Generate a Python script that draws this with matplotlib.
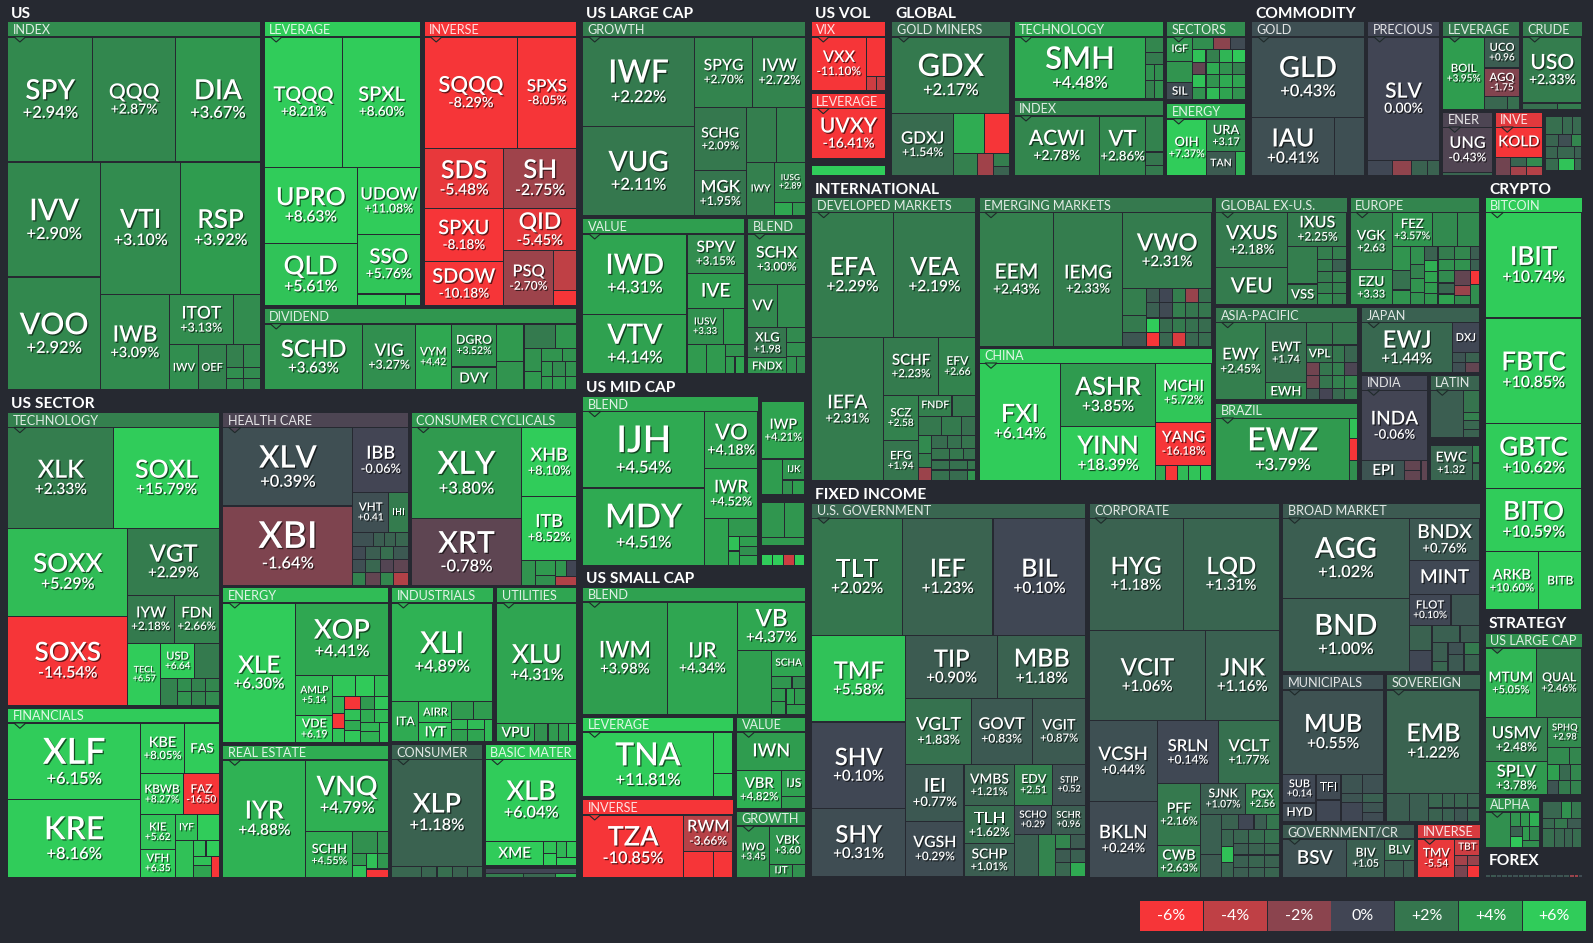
import matplotlib
matplotlib.use('Agg')
import matplotlib.pyplot as plt
import matplotlib.patheffects as pe
from matplotlib.patches import Rectangle, Polygon
import numpy as np

plt.rcParams['font.family'] = ['Lato', 'DejaVu Sans']

# ---- data: tickers, daily change in %, tile area ----
# unlabeled small funds are '' and names lists may stop early
index_names = ['SPY', 'QQQ', 'DIA', 'IVV', 'VOO', 'VTI', 'RSP', 'IWB', 'ITOT', '', 'IWV', 'OEF']
index_chg = [2.94, 2.87, 3.67, 2.90, 2.92, 3.10, 3.92, 3.09, 3.13, 3.1, 3.2, 2.6, 2.5, 3.0, 3.2, 3.0, 3.0, 3.0]
index_size = [9300, 9050, 9300, 9315, 9150, 9370, 9240, 5760, 2800, 1180, 1150, 1100, 350, 330, 175, 165, 175, 165]

lev_names = ['TQQQ', 'SPXL', 'UPRO', 'QLD', 'UDOW', 'SSO']
lev_chg = [8.21, 8.60, 8.63, 5.61, 11.08, 5.76, 6.5, 6.0]
lev_size = [8970, 8840, 6232, 5084, 3696, 3304, 504, 156]

inv_names = ['SQQQ', 'SPXS', 'SDS', 'SH', 'SPXU', 'SDOW', 'QID', 'PSQ']
inv_chg = [-8.29, -8.05, -5.48, -2.75, -8.18, -10.18, -5.45, -2.70, -4.0, -7.0]
inv_size = [9020, 5720, 4200, 3840, 3657, 3036, 2665, 2420, 800, 300]

div_names = ['SCHD', 'VIG', 'VYM', 'DGRO', 'DVY']
div_chg = [3.63, 3.27, 4.42, 3.52, 3.4, 3.8, 3.5, 2.2, 3.6, 3.4, 3.7, 3.5, 3.4, 3.6, 3.8, 3.0, 3.8, 3.4, 3.7]
div_size = [5610, 2970, 2046, 1677, 897, 888, 672, 667, 437, 345, 270, 247, 156, 150, 130, 165, 143, 150, 130]

tech_names = ['XLK', 'SOXL', 'SOXX', 'SOXS', 'VGT', 'IYW', 'FDN', 'TECL', 'USD']
tech_chg = [2.33, 15.79, 5.29, -14.54, 2.29, 2.18, 2.66, 6.57, 6.64, 2.2, 2.6, 3.2, 2.6, 2.8, 3.4, 2.7, 3.0]
tech_size = [9207, 9207, 9152, 9256, 5330, 1927, 1880, 1792, 1050, 770, 392, 156, 156, 156, 168, 168, 168]

fin_names = ['XLF', 'KRE', 'KBE', 'FAS', 'KBWB', 'FAZ', 'KIE', 'VFH', 'IYF']
fin_chg = [6.15, 8.16, 8.05, 7.5, 8.27, -16.50, 5.62, 6.35, 5.5, 6.2, 5.5, 5.6, 6.0, 5.5, 4.2, -7.0]
fin_size = [8740, 8855, 1911, 1519, 1520, 1280, 1020, 840, 500, 475, 592, 165, 180, 144, 176, 147]

health_names = ['XLV', 'XBI', 'IBB', 'VHT', 'IHI']
health_chg = [0.39, -1.64, -0.06, 0.41, 2.3, 0.5, 1.0, 1.2, 1.4, 0.2, 1.0, 1.7, 0.8, 0.4, 1.4, -0.5, -0.8, 2.6, -0.9, 2.8, -3.5]
health_size = [8814, 8927, 3111, 1216, 684, 252, 126, 140, 154, 154, 168, 154, 182, 143, 156, 143, 169, 143, 156, 143, 169]

cyc_names = ['XLY', 'XRT', 'XHB', 'ITB']
cyc_chg = [3.80, -0.78, 8.10, 8.52, 3.5, 3.8, 3.3, 3.6, 0.0, -3.5]
cyc_size = [8730, 6402, 3283, 3087, 297, 272, 170, 153, 144, 152]

energy_names = ['XLE', 'XOP', 'AMLP', 'VDE']
energy_chg = [6.30, 4.41, 5.14, 6.19, 5.8, 5.9, 5.3, 5.0, -8.0, 5.5, -8.0, 5.5, 4.5, 5.8, 3.8, 5.8, 4.6, 5.2, 5.0, 4.8, 5.5]
energy_size = [8618, 5712, 1271, 868, 399, 342, 252, 170, 150, 140, 182, 140, 140, 168, 156, 156, 144, 144, 153, 170, 160]

indus_names = ['XLI', 'ITA', 'AIRR', 'IYT']
indus_chg = [4.89, 4.5, 5.2, 5.4, 3.8, 3.9, 5.0, 5.3, 4.0, 4.3, 5.2]
indus_size = [8640, 966, 609, 551, 342, 306, 140, 150, 168, 180, 161]

util_names = ['XLU', 'VPU']
util_chg = [4.31, 4.3, 3.4, 3.8, 4.0, 5.5]
util_size = [8378, 608, 209, 171, 152, 133]

estate_names = ['IYR', 'VNQ', 'SCHH']
estate_chg = [4.88, 4.79, 4.55, 3.3, 3.5, 3.7, 5.5, 5.5, 3.6, -7.0]
estate_size = [8424, 5106, 1880, 462, 210, 144, 132, 160, 144, 160]

staples_names = ['XLP']
staples_chg = [1.18, 1.4, 1.3, 1.7, 1.2, 1.3]
staples_size = [8586, 286, 143, 143, 143, 143]

basic_names = ['XLB', 'XME']
basic_chg = [6.04, 6.3, 5.5, 6.0, 5.0, 5.7, 6.0]
basic_size = [6480, 1248, 144, 144, 136, 144, 144]

basic2_chg = [0.0, 2.3, 1.4, 5.0]
basic2_size = [324, 132, 112, 72]

growth_names = ['IWF', 'VUG', 'SPYG', 'IVW', 'SCHG', 'MGK', '', '', 'IWY', 'IUSG']
growth_chg = [2.22, 2.11, 2.70, 2.72, 2.09, 1.95, 2.4, 2.6, 2.5, 2.89, 4.4, 3.6]
growth_size = [9790, 9790, 4002, 3657, 3213, 2295, 1620, 1566, 1512, 1209, 238, 182]

value_names = ['IWD', 'VTV', 'SPYV', 'IVE', 'IUSV']
value_chg = [4.31, 4.14, 3.15, 3.9, 3.33, 3.9, 3.8, 3.8, 3.4, 3.8, 4.2]
value_size = [8137, 6077, 2204, 1972, 1260, 735, 570, 540, 209, 162, 162]

blend_names = ['SCHX', 'VV', '', 'XLG', 'FNDX']
blend_chg = [3.00, 2.9, 3.1, 1.98, 3.5, 3.0, 3.2, 3.3, 3.0]
blend_size = [2842, 1218, 1176, 1140, 608, 266, 247, 162, 162]

vix_names = ['VXX']
vix_chg = [-11.10, -8.0, -4.5, -4.0]
vix_size = [2916, 741, 140, 126]

uvxy_names = ['UVXY']
uvxy_chg = [-16.41]
uvxy_size = [3500]

volbar_chg = [7.0]
volbar_size = [740]

miners_names = ['GDX', 'GDXJ']
miners_chg = [2.17, 1.54, 4.6, -6.5, 2.5, -2.8, 2.4, 1.2]
miners_size = [8850, 3780, 1209, 975, 529, 345, 221, 153]

gtech_names = ['SMH']
gtech_chg = [4.48, 2.8, 2.2, 3.3, 3.2, 2.5, 3.3]
gtech_size = [8060, 270, 198, 135, 135, 162, 162]

gindex_names = ['ACWI', 'VT']
gindex_chg = [2.78, 2.86, 2.6, 2.0, 2.2]
gindex_size = [5040, 2700, 630, 234, 180]

sector_names = ['IGF', '', 'SIL']
sector_chg = [3.6, 3.5, 0.3, 3.2, -2.0, 0.2, 5.5, 2.5, 5.0, 5.8, -0.9, 4.5, 3.4, 2.4, 5.5, 3.5, 4.5, 4.2, 3.4, 5.2, 4.2, 3.4]
sector_size = [600, 500, 425, 240, 192, 180, 156, 156, 156, 156, 156, 156, 156, 156, 156, 156, 156, 156, 156, 156, 156, 156]

genergy_names = ['OIH', 'URA', 'TAN']
genergy_chg = [7.37, 3.17, 0.9, 5.0]
genergy_size = [2184, 1248, 672, 240]

gold_names = ['GLD', 'IAU']
gold_chg = [0.43, 0.41, 0.42]
gold_size = [9040, 4756, 1740]

precious_names = ['SLV']
precious_chg = [0.00, 0.1, -2.2, 1.2, 1.2]
precious_size = [8784, 384, 288, 256, 176]

clev_names = ['BOIL', 'UCO', 'AGQ']
clev_chg = [3.95, 0.96, -1.75, 1.4, 1.7]
clev_size = [2993, 1050, 980, 286, 156]

crude_names = ['USO']
crude_chg = [2.33, 1.7, 2.2]
crude_size = [3835, 238, 168]

ener_names = ['UNG']
ener_chg = [-0.43, 1.3]
ener_size = [2250, 150]

inve_names = ['KOLD']
inve_chg = [-8.0, -1.3, 1.3, 3.0, -3.0, -3.6]
inve_size = [1363, 266, 144, 144, 144, 144]

cmisc_chg = [1.7, 1.5, 1.5, 1.3, 0.4, 2.8, 1.3, 1.4, 1.1, 1.6, 5.6, 1.4]
cmisc_size = [272, 170, 153, 156, 156, 120, 132, 176, 77, 156, 192, 84]

dev_names = ['EFA', 'VEA', 'IEFA', 'SCHF', 'EFV', 'SCZ', 'EFG', 'FNDF']
dev_chg = [2.29, 2.19, 2.31, 2.23, 2.66, 2.58, 1.94, 2.5, 2.2, 2.1, 2.2, 1.7, 3.0, 2.4, -2.6, 1.6, 1.8, 1.9, 1.9, 2.1, 1.8, 1.8, 1.8, 2.0, 1.8, 1.6, 3.4]
dev_size = [9963, 10086, 10005, 3136, 2072, 1564, 1394, 684, 484, 437, 399, 266, 234, 182, 169, 192, 168, 168, 204, 168, 144, 170, 180, 80, 187, 198, 88]

em_names = ['EEM', 'IEMG', 'VWO']
em_chg = [2.43, 2.33, 2.31, 2.4, 2.2, 0.7, 0.9, 0.1, 2.4, -2.5, 1.7, 1.1, 0.2, 2.4, 2.0, 2.0, 6.0, 1.6, 2.2, 1.8, 1.6, -6.5, 1.4, -5.0, 1.4, 1.6]
em_size = [9740, 8978, 6643, 621, 391, 322, 182, 182, 182, 182, 182, 195, 195, 195, 195, 195, 182, 182, 182, 182, 182, 182, 182, 182, 182, 182]

china_names = ['FXI', 'ASHR', 'YINN', 'MCHI', 'YANG']
china_chg = [6.14, 3.85, 18.39, 5.72, -16.18, 4.6, -8.0, 5.2, 5.6, 6.0]
china_size = [9360, 5828, 4982, 3249, 2394, 160, 176, 176, 176, 176]

exus_names = ['VXUS', 'VEU', 'IXUS', '', 'VSS']
exus_chg = [2.18, 2.3, 2.25, 2.4, 2.4, 2.4, 2.4, 2.3, 1.1, 2.2, 2.5, 2.4, 2.4, 3.0, 2.4]
exus_size = [3850, 2590, 1920, 1102, 609, 195, 195, 165, 165, 165, 165, 150, 150, 165, 165]

europe_names = ['VGK', 'EZU', 'FEZ']
europe_chg = [2.63, 3.33, 3.57, 3.0, 3.0, 3.5, 1.8, 3.5, 3.3, 2.6, 3.5, 3.3, 1.2, 4.8, 4.2, 3.8, 3.6, 2.3, 3.4, 3.0, 1.4, 4.2, 2.8, 3.4, -0.9, -2.6, 2.9, 1.0, 1.1, -6.5, 3.2]
europe_size = [2223, 1365, 1240, 775, 682, 408, 340, 255, 234, 169, 182, 156, 182, 143, 147, 143, 143, 195, 165, 195, 165, 165, 208, 176, 224, 160, 144, 104, 88, 104, 160]

asia_names = ['EWY', 'EWT', 'EWH', '', '', 'VPL']
asia_chg = [2.45, 1.74, 2.9, 2.0, 2.0, 1.9, 2.0, 1.3, -1.3, 2.0, 2.3, -0.3, -1.3, 2.0, 2.6, 2.8, 1.0, -0.1, 1.5, 2.2]
asia_size = [3666, 2360, 680, 546, 546, 442, 204, 221, 156, 156, 156, 156, 156, 156, 156, 156, 144, 144, 144, 144]

japan_names = ['EWJ', 'DXJ']
japan_chg = [1.44, 0.1, 0.6, 1.2, 0.4, -0.9]
japan_size = [4450, 784, 130, 140, 130, 140]

india_names = ['INDA', 'EPI']
india_chg = [-0.06, 0.6, -0.9, -0.9, -0.8]
india_size = [4554, 861, 160, 160, 126]

latin_chg = [1.0, 1.9, 2.5, 1.4, 1.2]
latin_size = [1504, 336, 112, 144, 112]

ewc_names = ['EWC']
ewc_chg = [1.32, 2.6, 1.6]
ewc_size = [1404, 119, 119]

brazil_names = ['EWZ']
brazil_chg = [3.79, 5.5, -6.5, 3.2]
brazil_size = [8400, 160, 168, 160]

bitcoin_names = ['IBIT', 'FBTC', 'GBTC', 'BITO', 'ARKB', 'BITB']
bitcoin_chg = [10.74, 10.85, 10.62, 10.59, 10.60, 10.5]
bitcoin_size = [10185, 10185, 6305, 6111, 3074, 2552]

strat_names = ['MTUM', 'QUAL', 'USMV', 'SPLV', 'SPHQ']
strat_chg = [5.05, 2.46, 2.48, 3.78, 2.98, 3.0, 2.8, 4.1, 1.5, 2.9, 0.6, 2.3, 2.6]
strat_size = [3400, 3060, 2580, 1980, 980, 352, 208, 192, 176, 176, 154, 154, 154]

alpha_chg = [3.3, 3.5, 3.8, 4.8, 1.2, 5.8, 3.8, 2.9, 3.2]
alpha_size = [828, 130, 120, 130, 120, 120, 98, 126, 108]

smisc_chg = [1.4, 3.4, 2.0, 1.5, 2.1, 0.9, 1.7, 1.4, 1.3, 1.6]
smisc_size = [288, 144, 160, 110, 120, 140, 198, 162, 135, 162]

forex_chg = [0.6, 0.8, 0.5, 0.7, 0.6, 0.5, 0.8, 0.6, 0.5, 0.7, 0.6, 0.4, 0.6, 0.7, -2.5, -2.8, 0.3]
forex_size = [5, 5, 5, 5, 5, 5, 5, 5, 7, 6, 6, 6, 6, 6, 4, 4, 3]

gov_names = ['TLT', 'IEF', 'BIL', 'TMF', 'SHV', 'SHY', 'TIP', 'MBB', 'VGLT', 'GOVT', 'VGIT', 'IEI', 'VGSH', 'VMBS', 'TLH', 'SCHP', 'EDV', 'STIP', 'SCHO', 'SCHR']
gov_chg = [2.02, 1.23, 0.10, 5.58, 0.10, 0.31, 0.90, 1.18, 1.83, 0.83, 0.87, 0.77, 0.29, 1.21, 1.62, 1.01, 2.51, 0.52, 0.29, 0.96, 1.1, 2.7, 2.8, 0.9, 0.9, 1.1, 1.4, 4.5]
gov_size = [10350, 10350, 10580, 7912, 7912, 6256, 5612, 5368, 4225, 3900, 3445, 3249, 3135, 2050, 1850, 1650, 1520, 1320, 1044, 986, 966, 714, 210, 210, 196, 196, 210, 210]

corp_names = ['HYG', 'LQD', 'VCIT', 'JNK', 'VCSH', 'BKLN', 'SRLN', 'VCLT', 'PFF', 'CWB', 'SJNK', 'PGX']
corp_chg = [1.18, 1.31, 1.06, 1.16, 0.44, 0.24, 0.14, 1.77, 2.16, 2.63, 1.07, 2.56, 1.1, 0.9, 1.2, 0.1, 1.0, 2.0, 1.3, 5.5, 1.3, 1.3, 1.6, 1.8, 1.0, 1.2, 1.4, 1.1, 1.3, 1.2, 1.0, 1.1, 1.3]
corp_size = [10246, 10464, 10324, 6497, 5346, 5082, 3721, 3721, 2583, 1353, 1350, 1020, 820, 460, 255, 225, 180, 195, 204, 180, 180, 210, 210, 210, 165, 165, 165, 180, 180, 180, 150, 150, 150]

broad_names = ['AGG', 'BND', 'BNDX', 'MINT', 'FLOT']
broad_chg = [1.02, 1.00, 0.76, 0.12, 0.10, 0.7, 1.2, 0.1, 1.1, 0.9, 1.0, 1.4, 0.5, 0.8, 2.2, 1.2]
broad_size = [9796, 9052, 2880, 2376, 1260, 870, 550, 484, 448, 320, 304, 160, 192, 272, 192, 272]

muni_names = ['MUB', 'SUB', 'HYD', 'TFI']
muni_chg = [0.55, 0.14, 0.2, 0.2, 0.1, 0.6, 0.5, 0.6, 1.1, 0.1, 0.6, 0.3]
muni_size = [8282, 928, 608, 624, 528, 399, 399, 189, 189, 399, 189, 189]

sov_names = ['EMB']
sov_chg = [1.22, 1.0, 1.0, 1.4, 1.2, 1.2, 1.1, 1.3, 0.7, 1.2, 1.3]
sov_size = [9393, 630, 540, 195, 182, 180, 168, 180, 168, 180, 168]

govcr_names = ['BSV', 'BIV', 'BLV']
govcr_chg = [0.5, 1.05, 1.6, 1.0, 1.0]
govcr_size = [2394, 1406, 638, 320, 170]

fiinv_names = ['TMV', 'TBT']
fiinv_chg = [-5.54, -4.5, -3.0, -2.5, -1.5, -6.5]
fiinv_size = [1368, 390, 130, 130, 143, 143]

mid_names = ['IJH', 'MDY', 'VO', 'IWR']
mid_chg = [4.54, 4.51, 4.18, 4.52, 4.2, 3.7, 5.5, 4.5, 4.0, 3.3, 4.3]
mid_size = [9120, 9240, 2970, 2646, 1104, 510, 154, 154, 176, 160, 176]

iwp_names = ['IWP', '', 'IJK']
iwp_chg = [4.21, 3.9, 3.6, 3.4, 4.0]
iwp_size = [2408, 720, 462, 150, 180]

mid2_chg = [3.6, 3.6, 3.8]
mid2_size = [748, 680, 346]

mid3_chg = [6.0, 6.0, -4.5, 6.0]
mid3_size = [110, 108, 112, 110]

small_names = ['IWM', 'IJR', 'VB', '', 'SCHA']
small_chg = [3.98, 4.34, 4.37, 4.0, 4.3, 3.6, 3.0, 3.9, 3.9, 4.2, 3.8, 4.0]
small_size = [9296, 7728, 3220, 2145, 864, 252, 168, 182, 182, 135, 165, 198]

slev_names = ['TNA']
slev_chg = [11.81, 7.0, 7.0]
slev_size = [8385, 800, 460]

sinv_names = ['TZA', 'RWM']
sinv_chg = [-10.85, -3.66, -7.0, -7.0]
sinv_size = [6200, 1800, 754, 494]

sval_names = ['IWN', 'VBR', 'IJS']
sval_chg = [3.9, 4.82, 4.1, 3.9]
sval_size = [2553, 1672, 600, 288]

sgro_names = ['IWO', 'VBK', 'IJT']
sgro_chg = [3.45, 3.60, 3.5, 3.3]
sgro_size = [1632, 1332, 286, 169]

legend_values = [-6, -4, -2, 0, 2, 4, 6]
legend_labels = ['-6%', '-4%', '-2%', '0%', '+2%', '+4%', '+6%']

# tickers where the site drops the % sign or the change altogether
no_percent = {'VYM', 'EFV', 'SCZ', 'EFG', 'EWT', 'EWC', 'IUSG', 'IUSV', 'XLG', 'USD', 'TECL', 'AMLP', 'VDE',
              'VHT', 'KIE', 'VFH', 'FAZ', 'UCO', 'AGQ', 'URA', 'IWO', 'VBK', 'EDV', 'STIP', 'SCHO', 'SCHR',
              'PGX', 'SUB', 'BIV', 'TMV', 'VGK', 'EZU', 'SPHQ'}
ticker_only = {'IWV', 'OEF', 'FAS', 'IVE', 'IWY', 'VV', 'FNDX', 'IHI', 'ITA', 'AIRR', 'IYT', 'VPU', 'IYF', 'XME',
               'IGF', 'SIL', 'TAN', 'KOLD', 'IJK', 'SCHA', 'IWN', 'IJS', 'IJT', 'FNDF', 'DVY', 'VEU', 'VSS', 'VPL',
               'EWH', 'DXJ', 'EPI', 'MINT', 'TFI', 'HYD', 'BSV', 'BLV', 'TBT', 'BITB'}

# label sizes in px where the site's sizing differs from the width rule below
font_px = {'XLK': 25, 'SOXL': 25, 'SOXX': 26, 'SOXS': 26, 'VGT': 24, 'XLF': 36, 'KRE': 32, 'XLV': 31, 'XBI': 37,
           'XLY': 32, 'XRT': 30, 'XOP': 27, 'XLI': 30, 'IYR': 25, 'VNQ': 27, 'XLP': 27, 'XLB': 27, 'XLU': 26, 'XLE': 24,
           'GDX': 31, 'SMH': 31, 'EWZ': 32, 'IJH': 37, 'MDY': 33, 'TNA': 32, 'TZA': 27, 'AGG': 29, 'BND': 29, 'MUB': 25,
           'EMB': 25, 'GLD': 29, 'IAU': 25, 'IWF': 32, 'VUG': 28, 'IWD': 28, 'VTV': 28, 'HYG': 24, 'LQD': 24, 'VCIT': 24,
           'JNK': 24, 'TLT': 25, 'IEF': 25, 'BIL': 25, 'EFA': 25, 'VEA': 25, 'EEM': 21, 'IEMG': 19, 'VWO': 24, 'FXI': 25,
           'ASHR': 25, 'YINN': 25, 'IBIT': 26, 'FBTC': 26, 'GBTC': 26, 'BITO': 26, 'QQQ': 21, 'SQQQ': 22, 'SPXS': 17,
           'TQQQ': 20, 'SPXL': 20, 'UPRO': 25, 'QLD': 26, 'SDS': 25, 'SH': 26, 'QID': 23, 'SPXU': 20, 'SDOW': 20,
           'SCHD': 24, 'SLV': 21, 'ACWI': 21, 'VT': 22, 'USO': 21, 'UVXY': 21, 'VXX': 16, 'VB': 24, 'IWM': 23, 'IJR': 21,
           'TIP': 24, 'MBB': 25, 'TMF': 24, 'SHV': 24, 'SHY': 24, 'IEFA': 19, 'EWJ': 24, 'INDA': 19,
           'SIL': 11.5, 'IGF': 10.5, 'VSS': 13, 'EWH': 13, 'EPI': 15, 'VPL': 12, 'DXJ': 11, 'TAN': 10.5, 'TFI': 12,
           'HYD': 12, 'FNDF': 10.5, 'XME': 15, 'VPU': 14, 'IYT': 14, 'AIRR': 11, 'ITA': 12, 'IYF': 10, 'FAS': 13,
           'DVY': 14, 'SCHA': 10, 'IJK': 9.5, 'IJT': 10, 'IJS': 12, 'BLV': 12, 'BSV': 19, 'TBT': 10, 'BITB': 12,
           'MINT': 19, 'VEU': 21, 'KOLD': 15, 'IWY': 10, 'IWV': 11, 'OEF': 11, 'VV': 15, 'FNDX': 11, 'IHI': 9,
           'IVE': 19, 'IWN': 18}

# ---- layout: panel boxes in pixels and how each panel is sliced (v/h, '.' = one fund) ----
panels = [
    ('INDEX', (7.9, 22, 260.4, 390), 'v(h(...)h(v(..)v(h(..)h(.v(h(..)h(..v(h(..)h(..)h(..)', index_names, index_chg, index_size),
    ('LEVERAGE', (264.2, 22, 420.4, 306), 'v(h(..)h(v(..)v(..h(..)', lev_names, lev_chg, lev_size),
    ('INVERSE', (424.2, 22, 576.6, 306), 'v(h(..)h(..)h(v(..)v(.h(.v(..)', inv_names, inv_chg, inv_size),
    ('DIVIDEND', (264.2, 309, 576.6, 390), 'h(...v(..)v(..)v(h(..)h(v(..)v(h(..)h(v(..)v(..)v(..)', div_names, div_chg, div_size),
    ('TECHNOLOGY', (7.9, 412.7, 219.4, 705.7), 'v(h(..)h(v(..)v(.h(..)h(.v(h(..)h(.v(h(...)h(...)', tech_names, tech_chg, tech_size),
    ('FINANCIALS', (7.9, 708.3, 219.4, 877.3), 'h(v(..)v(h(..)h(..)h(v(..)v(h(..)h(.v(h(..)h(v(..).)', fin_names, fin_chg, fin_size),
    ('HEALTH CARE', (222.8, 412.7, 408.4, 585.3), 'h(v(..)v(.h(..)v(h(....)h(....)h(....)h(....)', health_names, health_chg, health_size),
    ('CONSUMER CYCLICALS', (411.4, 412.7, 576.6, 585.3), 'h(v(..)v(..h(.v(..)v(h(..).)', cyc_names, cyc_chg, cyc_size),
    ('ENERGY', (222.8, 588, 388.4, 742.7), 'h(.v(.h(v(..)v(h(...)h(v(...)v(....)v(h(..)h(..)h(v(..).)', energy_names, energy_chg, energy_size),
    ('INDUSTRIALS', (391.4, 588, 493, 742), 'v(.h(.v(..)v(h(..)h(v(h(..)h(..)).)', indus_names, indus_chg, indus_size),
    ('UTILITIES', (496.8, 588, 576.6, 742), 'v(.h(.....)', util_names, util_chg, util_size),
    ('REAL ESTATE', (222.8, 745.3, 388.4, 877.3), 'h(.v(.h(.v(h(..)h(v(..)v(h(..).)', estate_names, estate_chg, estate_size),
    ('CONSUMER', (391.4, 744.7, 482.5, 877.3), 'v(.h(.....)', staples_names, staples_chg, staples_size),
    ('BASIC MATER', (485.5, 744.7, 576.6, 866), 'v(.h(.v(..)v(h(..).)', basic_names, basic_chg, basic_size),
    ('', (485.5, 868.7, 576.6, 877.3), 'v(.h(...)', [], basic2_chg, basic2_size),
    ('GROWTH', (582.7, 22, 805.7, 216), 'h(v(..)v(h(..)h(v(..)v(h(..)h(.v(.h(..)', growth_names, growth_chg, growth_size),
    ('VALUE', (582.7, 219, 744.3, 374), 'h(v(..)v(..h(..)h(..v(.h(..)', value_names, value_chg, value_size),
    ('BLEND', (747.7, 219, 805.7, 374), 'v(.h(..)h(v(..)v(..h(..)', blend_names, blend_chg, blend_size),
    ('VIX', (811.3, 22, 885.7, 90.7), 'h(.v(.h(..)', vix_names, vix_chg, vix_size),
    ('LEVERAGE', (811.3, 93.7, 885.7, 158.3), '.', uvxy_names, uvxy_chg, uvxy_size),
    ('', (811.3, 165.7, 885.7, 175.7), '.', [], volbar_chg, volbar_size),
    ('GOLD MINERS', (891.7, 22, 1010, 175.7), 'v(.h(.v(h(..)h(..v(..)', miners_names, miners_chg, miners_size),
    ('TECHNOLOGY', (1014, 22, 1163.3, 99), 'h(.v(..h(..)h(..)', gtech_names, gtech_chg, gtech_size),
    ('INDEX', (1014, 101, 1163.3, 175.7), 'h(..v(...)', gindex_names, gindex_chg, gindex_size),
    ('SECTORS', (1166.7, 22, 1245.7, 100), 'h(v(...)v(h(...)h(....)h(....)h(....)h(....)', sector_names, sector_chg, sector_size),
    ('ENERGY', (1166.7, 104, 1245.7, 175.7), 'h(.v(.h(..)', genergy_names, genergy_chg, genergy_size),
    ('GOLD', (1251.7, 22, 1364.3, 175.7), 'v(.h(..)', gold_names, gold_chg, gold_size),
    ('PRECIOUS', (1367.7, 22, 1439.3, 175.7), 'v(.h(....)', precious_names, precious_chg, precious_size),
    ('LEVERAGE', (1442.7, 22, 1519.3, 110), 'h(.v(..h(..)', clev_names, clev_chg, clev_size),
    ('CRUDE', (1522.7, 22, 1582, 110), 'v(.h(..)', crude_names, crude_chg, crude_size),
    ('ENER', (1442.7, 112.3, 1492.3, 175.7), 'v(..)', ener_names, ener_chg, ener_size),
    ('INVE', (1495.3, 112.3, 1542.3, 175.7), 'v(.h(.v(h(..)h(..)', inve_names, inve_chg, inve_size),
    ('', (1545.3, 116.7, 1582, 171), 'v(h(...)h(...)h(...)h(...)', [], cmisc_chg, cmisc_size),
    ('DEVELOPED MARKETS', (811.7, 197.7, 975.7, 481), 'v(h(..)h(.v(h(..)h(v(..)v(h(..)h(...)h(v(...)v(h(...)h(...)h(...)h(...)', dev_names, dev_chg, dev_size),
    ('EMERGING MARKETS', (979, 197.7, 1212, 346.3), 'h(..v(.h(v(...)v(h(.....)h(.....)h(.....)h(.....)', em_names, em_chg, em_size),
    ('CHINA', (979, 348.3, 1212, 481), 'h(.v(..)v(..h(.....)', china_names, china_chg, china_size),
    ('GLOBAL EX-U.S.', (1215.7, 197.7, 1347, 305), 'h(v(..)v(.h(v(..)v(h(..)h(..)h(..)h(..)h(..)', exus_names, exus_chg, exus_size),
    ('EUROPE', (1350.3, 197.7, 1479.3, 305), 'h(v(..)v(h(...)h(v(...)v(....)v(.....)v(.....)v(.....)v(....)', europe_names, europe_chg, europe_size),
    ('ASIA-PACIFIC', (1215.7, 307.7, 1357.7, 400), 'h(.v(..)v(h(..)h(...)h(....)h(....)h(....)', asia_names, asia_chg, asia_size),
    ('JAPAN', (1361.7, 307.7, 1479.3, 372.7), 'h(.v(.h(..)h(..)', japan_names, japan_chg, japan_size),
    ('INDIA', (1361.7, 375.3, 1427.3, 481), 'v(.h(.v(..).)', india_names, india_chg, india_size),
    ('LATIN', (1430.3, 375.3, 1479.3, 437.3), 'h(.v(....)', [], latin_chg, latin_size),
    ('', (1430.3, 445, 1479.3, 481), 'h(.v(..)', ewc_names, ewc_chg, ewc_size),
    ('BRAZIL', (1215.7, 403.3, 1357.7, 481), 'h(.v(...)', brazil_names, brazil_chg, brazil_size),
    ('BITCOIN', (1485.3, 197.7, 1582, 610), 'v(....h(..)', bitcoin_names, bitcoin_chg, bitcoin_size),
    ('US LARGE CAP', (1485.3, 633.3, 1582, 794.3), 'v(h(..)h(v(..)v(.h(..)h(...)h(...)', strat_names, strat_chg, strat_size),
    ('ALPHA', (1485.3, 797.3, 1539.3, 847.3), 'h(.v(h(...)h(v(..)v(h(..).)', [], alpha_chg, alpha_size),
    ('', (1542.7, 801.7, 1582, 847.3), 'v(h(...)h(...)h(....)', [], smisc_chg, smisc_size),
    ('', (1485.3, 875, 1582, 877.5), 'h(.................)', [], forex_chg, forex_size),
    ('U.S. GOVERNMENT', (811.7, 503.3, 1085.7, 876.7), 'v(h(...)h(v(...)v(h(..)h(...)h(v(..)v(...)v(h(..)h(..)h(..v(h(..)h(..)h(..)', gov_names, gov_chg, gov_size),
    ('CORPORATE', (1089, 503.3, 1279.3, 877.3), 'v(h(..)h(..)h(v(..)v(h(..)h(v(..)v(h(..)h(v(..)v(h(....)h(v(...)v(h(...)h(...)h(...)h(...)', corp_names, corp_chg, corp_size),
    ('BROAD MARKET', (1282.7, 503.3, 1480, 672), 'h(v(..)v(..h(..)h(v(..)v(h(..)h(v(..)v(..)v(..)', broad_names, broad_chg, broad_size),
    ('MUNICIPALS', (1282.7, 675, 1383.3, 821.7), 'v(.h(v(..)v(..)v(h(..)h(..)h(.v(..)', muni_names, muni_chg, muni_size),
    ('SOVEREIGN', (1386.7, 675, 1480, 821.7), 'v(.h(..v(..)v(..)v(..)v(..)', sov_names, sov_chg, sov_size),
    ('GOVERNMENT/CR', (1282.7, 824.3, 1414.3, 877.3), 'h(..v(.h(..)', govcr_names, govcr_chg, govcr_size),
    ('INVERSE', (1417.7, 824.3, 1480, 877.3), 'h(.v(.h(..)h(..)', fiinv_names, fiinv_chg, fiinv_size),
    ('BLEND', (582.7, 396.7, 758, 565.3), 'h(v(..)v(..h(.v(.h(v(..)v(...)', mid_names, mid_chg, mid_size),
    ('', (761.7, 401.7, 805, 495), 'v(.h(.v(.h(..)', iwp_names, iwp_chg, iwp_size),
    ('', (761.7, 502.7, 805, 546), 'v(h(..).)', [], mid2_chg, mid2_size),
    ('', (761.7, 554, 805, 565.3), 'h(....)', [], mid3_chg, mid3_size),
    ('BLEND', (582.7, 587.3, 805.7, 714.3), 'h(..v(.h(.v(.h(..)h(v(..)v(h(..).)', small_names, small_chg, small_size),
    ('LEVERAGE', (582.7, 717.3, 733, 797), 'h(.v(..)', slev_names, slev_chg, slev_size),
    ('INVERSE', (582.7, 800, 733, 877.3), 'h(.v(.h(..)', sinv_names, sinv_chg, sinv_size),
    ('VALUE', (736.7, 717.3, 805.7, 808.7), 'v(.h(.v(..)', sval_names, sval_chg, sval_size),
    ('GROWTH', (736.7, 811.3, 805.7, 877.3), 'h(.v(.h(..)', sgro_names, sgro_chg, sgro_size),
]

panel_titles = [('US', 11, 14), ('US LARGE CAP', 586, 14), ('US VOL', 815, 14), ('GLOBAL', 895, 14),
                ('COMMODITY', 1255, 14), ('US SECTOR', 11, 404), ('INTERNATIONAL', 815, 190), ('US MID CAP', 586, 388),
                ('US SMALL CAP', 586, 579), ('FIXED INCOME', 815, 495), ('CRYPTO', 1489, 190), ('STRATEGY', 1489, 624),
                ('FOREX', 1489, 861)]

BG = '#262931'
STOPS_X = [-6, -4, -2, 0, 2, 4, 6]
STOPS_C = np.array([[246, 53, 56], [191, 64, 69], [139, 68, 78], [65, 69, 84], [53, 118, 78], [47, 158, 79], [48, 204, 90]]) / 255
shadow = [pe.withSimplePatchShadow(offset=(0.9, -0.9), shadow_rgbFace='black', alpha=0.6)]


def colour(c):
    return tuple(np.interp(c, STOPS_X, STOPS_C[:, i]) for i in range(3))


def parse(s):
    pos = 0
    leaf = 0

    def node():
        nonlocal pos, leaf
        if s[pos] == '.':
            pos += 1
            leaf += 1
            return leaf - 1
        d = s[pos]
        pos += 2
        kids = []
        while pos < len(s) and s[pos] != ')':
            kids.append(node())
        pos += 1
        return d, kids

    tree = node()
    return tree, leaf


def weight(n, sizes):
    if isinstance(n, int):
        return sizes[n]
    return sum(weight(k, sizes) for k in n[1])


def place(n, box, sizes, out):
    if isinstance(n, int):
        out[n] = box
        return
    d, kids = n
    x0, y0, x1, y1 = box
    total = weight(n, sizes)
    at = x0 if d == 'h' else y0
    for k in kids:
        share = weight(k, sizes) / total
        if d == 'h':
            step = (x1 - x0) * share
            place(k, (at, y0, at + step, y1), sizes, out)
        else:
            step = (y1 - y0) * share
            place(k, (x0, at, x1, at + step), sizes, out)
        at += step


def draw_tile(ax, box, name, chg):
    x0, y0, x1, y1 = box
    w, h = x1 - x0, y1 - y0
    ix, iy = min(0.55, w * 0.12), min(0.55, h * 0.12)
    ax.add_patch(Rectangle((x0 + ix, y0 + iy), w - 2 * ix, h - 2 * iy, fc=colour(chg), lw=0))
    if not name:
        return
    px = font_px.get(name, min(w / (0.62 * len(name) + 1.2), h * 0.5, 30))
    cx, cy = (x0 + x1) / 2, (y0 + y1) / 2
    if name in ticker_only:
        ax.text(cx, cy, name, color='white', fontsize=px * 0.72, fontweight='semibold', ha='center', va='center', path_effects=shadow)
        return
    label = '0.00%' if chg == 0 else (f'{chg:+.2f}' + ('' if name in no_percent else '%'))
    sub = min(0.4 * px + 5.5, 16.5, w * 0.9 / (0.52 * len(label)))
    ax.text(cx, cy - sub * 0.5, name, color='white', fontsize=px * 0.72, fontweight='semibold', ha='center', va='center', path_effects=shadow)
    ax.text(cx, cy + px * 0.48, label, color='white', fontsize=sub * 0.72, fontweight='semibold', ha='center', va='center', path_effects=shadow)


fig = plt.figure(figsize=(15.93, 9.43), dpi=100, facecolor=BG)
ax = fig.add_axes([0, 0, 1, 1])
ax.set_xlim(0, 1593)
ax.set_ylim(943, 0)
ax.axis('off')

for title, frame, spec, names, chg, sizes in panels:
    tree, n_leaves = parse(spec)
    if not (n_leaves == len(chg) == len(sizes)):
        print('mismatch', title, frame, n_leaves, len(chg), len(sizes))
        continue
    x0, y0, x1, y1 = frame
    body = (x0, y0 + 15, x1, y1) if title else frame
    boxes = {}
    place(tree, body, sizes, boxes)
    names = list(names) + [''] * (len(chg) - len(names))
    for i in range(len(chg)):
        draw_tile(ax, boxes[i], names[i], chg[i])
    if title:
        head = colour(np.average(chg, weights=sizes))
        ax.add_patch(Rectangle((x0 + 0.5, y0 + 0.3), x1 - x0 - 1, 13.9, fc=head, lw=0))
        ax.text(x0 + 5, y0 + 8, title, color='white', alpha=0.85, fontsize=9.1, ha='left', va='center')
        ax.add_patch(Polygon([(x0 + 6, y0 + 14.7), (x0 + 12, y0 + 20), (x0 + 18, y0 + 14.7)], closed=True, fc=head, ec='#1f2a2a', lw=0.8))

for text, x, y in panel_titles:
    ax.text(x, y, text, color='white', fontsize=11.2, fontweight='bold', ha='left', va='center')

# colour legend
for i, (v, lab) in enumerate(zip(legend_values, legend_labels)):
    ax.add_patch(Rectangle((1140 + i * 63.8, 901), 63, 30, fc=colour(v), lw=0))
    ax.text(1140 + i * 63.8 + 31.5, 916, lab, color='white', fontsize=11.5, ha='center', va='center')

fig.savefig('out.png', dpi=100, facecolor=BG)
